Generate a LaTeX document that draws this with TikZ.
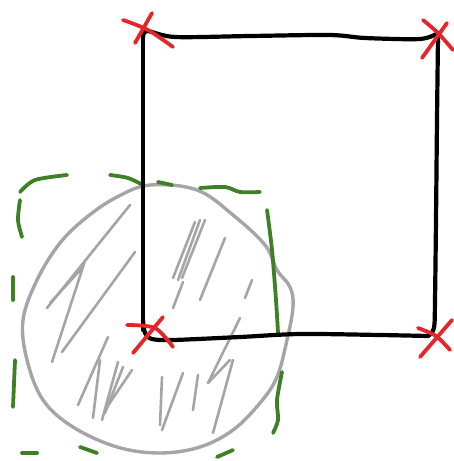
\documentclass[tikz,border=0pt]{standalone}
\definecolor{inkred}{RGB}{228,38,42}
\definecolor{inkgreen}{RGB}{62,128,38}
\definecolor{inkgray}{RGB}{165,165,168}
\tikzset{
  sq/.style={black,line width=4.2pt,line cap=round,line join=round},
  xmark/.style={inkred,line width=3.8pt,line cap=round},
  circ/.style={inkgray,line width=3.4pt,line join=round},
  hatch/.style={inkgray,line width=2.6pt,line cap=round},
  gdash/.style={inkgreen,line width=3.8pt,line cap=round}
}
\begin{document}
\begin{tikzpicture}[x=1pt,y=-1pt]
\useasboundingbox (0,0) rectangle (453,461);
% hatching
\draw[hatch] (130,205) -- (47,308);
\draw[hatch] (50,303) -- (83,267) -- (52,362);
\draw[hatch] (135,252) -- (62,352);
\draw[hatch] (195,222) -- (173,278);
\draw[hatch] (200,220) -- (178,280);
\draw[hatch] (205,220) -- (182,278);
\draw[hatch] (183,282) -- (173,308);
\draw[hatch] (225,238) -- (200,300);
\draw[hatch] (252,280) -- (245,298);
\draw[hatch] (240,318) -- (208,383);
\draw[hatch] (108,337) -- (78,405);
\draw[hatch] (100,360) -- (93,418);
\draw[hatch] (118,362) -- (102,420);
\draw[hatch] (123,367) -- (105,413);
\draw[hatch] (132,370) -- (107,407);
\draw[hatch] (162,377) -- (160,425);
\draw[hatch] (183,373) -- (162,430);
\draw[hatch] (198,375) -- (193,410);
\draw[hatch] (208,383) -- (230,360);
\draw[hatch] (233,360) -- (213,433);
% circle outline
\draw[circ] plot[smooth cycle,tension=0.6] coordinates {
  (150,185) (197,190) (233,215) (265,245) (277,270) (290,287) (293,307)
  (287,340) (277,377) (260,403) (233,430) (200,447) (160,453) (117,447)
  (73,427) (43,400) (27,360) (23,320) (37,280) (60,243) (87,217) (117,197)};
% green dashed square
\draw[gdash] plot[smooth] coordinates {(20,192) (35,180) (67,175)};
\draw[gdash] plot[smooth] coordinates {(110,175) (128,178) (143,185)};
\draw[gdash] (158,182) -- (172,185);
\draw[gdash] plot[smooth] coordinates {(200,188) (225,187) (240,192) (260,192)};
\draw[gdash] plot[smooth] coordinates {(267,210) (272,250) (276,300) (278,333)};
\draw[gdash] plot[smooth] coordinates {(282,372) (277,400) (278,420) (273,433)};
\draw[gdash] plot[smooth] coordinates {(20,200) (18,220) (22,237)};
\draw[gdash] (13,277) -- (13,300);
\draw[gdash] (15,360) -- (13,407);
\draw[gdash] (22,453) -- (37,453);
\draw[gdash] (80,447) -- (97,453);
\draw[gdash] (217,457) -- (233,450);
% black square
\draw[sq] plot[smooth] coordinates {(143,330) (143,250) (143,150) (143,60) (143,38)};
\draw[sq] plot[smooth,tension=0.5] coordinates {(143,38) (147,31) (175,37) (250,36) (330,35) (365,38) (420,39) (438,33)};
\draw[sq] plot[smooth] coordinates {(438,37) (437,120) (436,220) (435,300) (434,328) (428,336)};
\draw[sq] plot[smooth,tension=0.5] coordinates {(143,320) (145,333) (152,339) (173,340) (240,337) (300,334) (380,335) (428,336)};
% red crosses
\draw[xmark] plot[smooth] coordinates {(123,20) (148,30) (173,47)};
\draw[xmark] (152,13) -- (135,43);
\draw[xmark] plot[smooth] coordinates {(423,20) (438,33) (453,50)};
\draw[xmark] (447,23) -- (422,58);
\draw[xmark] (452,320) -- (420,357);
\draw[xmark] plot[smooth] coordinates {(418,328) (436,336) (450,350)};
\draw[xmark] plot[smooth] coordinates {(127,325) (155,328) (173,347)};
\draw[xmark] (163,317) -- (133,353);
\end{tikzpicture}
\end{document}
